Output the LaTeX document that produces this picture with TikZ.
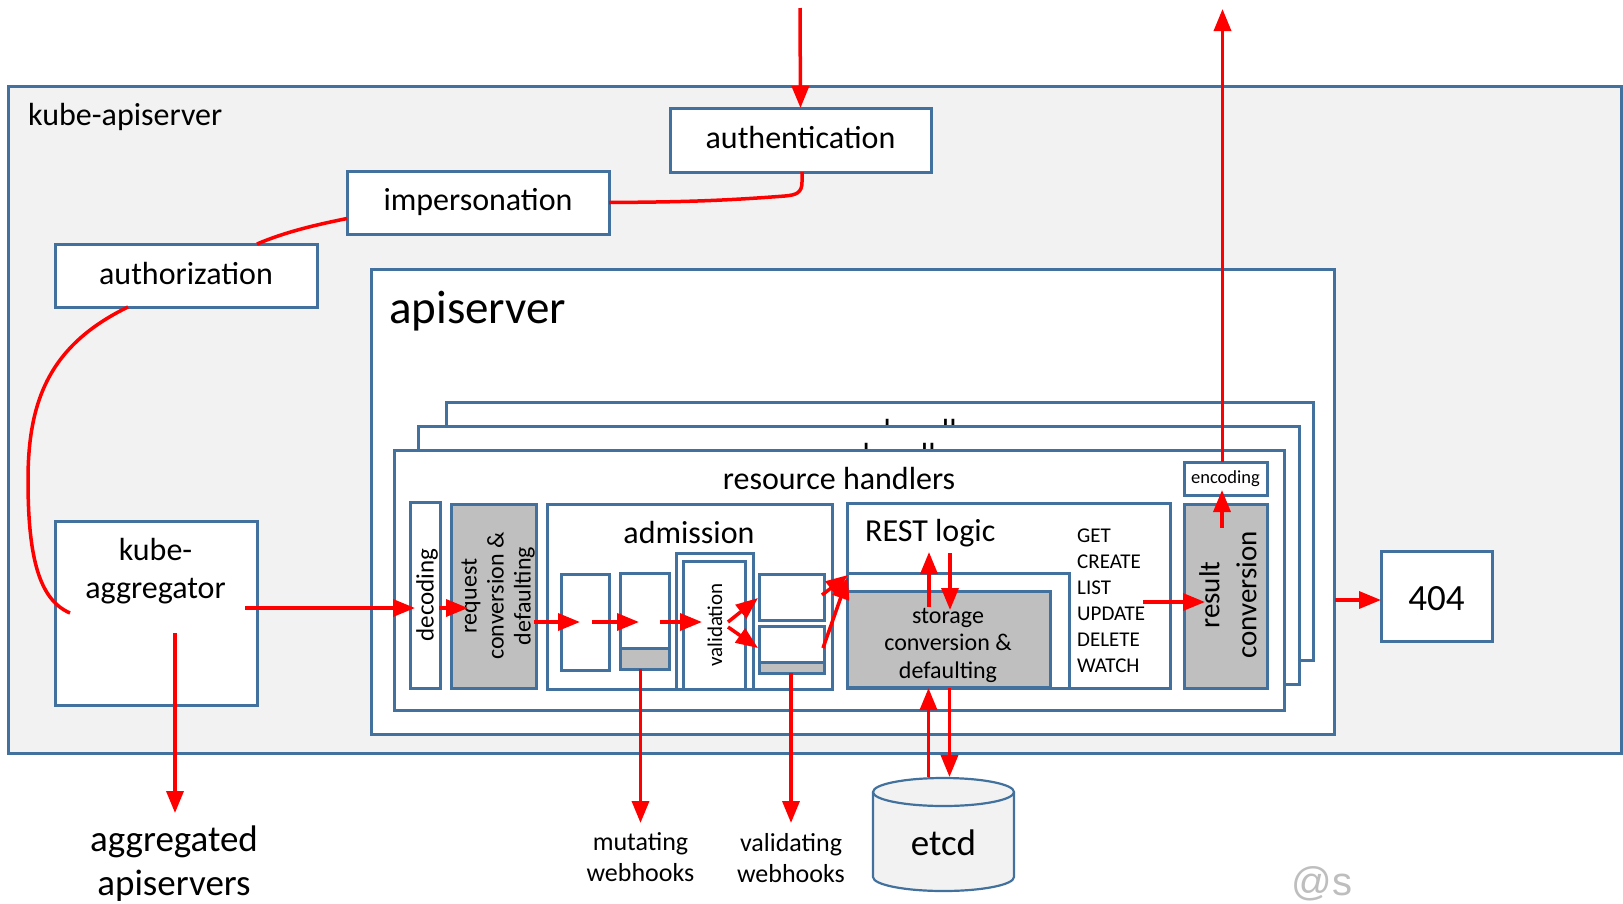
\documentclass[tikz,border=0pt]{standalone}
\usepackage{fontspec}
\setmainfont{Carlito}
\newfontfamily\marksans{Liberation Sans}
\usetikzlibrary{arrows.meta,calc}
\definecolor{edgeblue}{RGB}{65,113,156}
\definecolor{panelgray}{RGB}{242,242,242}
\definecolor{stagegray}{RGB}{191,191,191}
\definecolor{flowred}{RGB}{255,0,0}
\definecolor{markgray}{RGB}{190,190,190}
\newcommand\fsz[2]{\fontsize{#1pt}{#2pt}\selectfont}

\begin{document}
\begin{tikzpicture}[x=1pt,y=-1pt,
  box/.style={draw=edgeblue, line width=3pt, fill=white, inner sep=0pt, outer sep=0pt},
  graybox/.style={box, fill=stagegray},
  band/.style={draw=edgeblue, line width=3pt, fill=stagegray},
  txt/.style={inner sep=0pt, text=black},
  flow/.style={draw=flowred, line width=3.5pt, -{Triangle[length=22pt,width=17pt]}},
  wire/.style={draw=flowred, line width=3.5pt},
  cyl/.style={draw=edgeblue, line width=2.2pt, fill=panelgray}]

\useasboundingbox (0,0) rectangle (1623,903);
\fill[white] (0,0) rectangle (1623,903);

% kube-apiserver frame
\node[box, fill=panelgray, minimum width=1613pt, minimum height=667pt] (kas) at (814.5,419.5) {};
\node[txt, anchor=west, font=\fsz{32}{38}] (kaslabel) at (28,117) {kube-apiserver};

% request pipeline in front of the apiserver
\node[box, minimum width=261pt, minimum height=64pt] (authn) at (800.5,140) {};
\node[txt, font=\fsz{32}{38}] (authnlabel) at (800.5,138) {authentication};
\node[box, minimum width=262pt, minimum height=63pt, font=\fsz{32}{38}] (imp) at (478,202.5) {impersonation};
\node[box, minimum width=262pt, minimum height=63pt] (authz) at (186,275.5) {};
\node[txt, font=\fsz{32}{38}] (authzlabel) at (186,273.5) {authorization};
\node[box, minimum width=202pt, minimum height=184pt] (kag) at (156,613) {};
\node[txt, align=center, font=\fsz{32}{38}] (kaglabel) at (155.5,571) {kube-\\aggregator};

% apiserver
\node[box, minimum width=963pt, minimum height=465pt] (api) at (852.5,501.5) {};
\node[txt, anchor=west, font=\fsz{47}{56}] (apilabel) at (389,311) {apiserver};

% stacked resource handlers
\node[box, minimum width=867pt, minimum height=258pt] (rh3) at (879.5,531) {};
\node[txt, font=\fsz{32}{38}] (rh3label) at (879.5,430) {resource handlers};
\node[box, minimum width=881pt, minimum height=258pt] (rh2) at (858.5,555) {};
\node[txt, font=\fsz{32}{38}] (rh2label) at (858.5,454) {resource handlers};
\node[box, minimum width=890pt, minimum height=260pt] (rh1) at (839,580) {};
\node[txt, font=\fsz{32}{38}] (rh1label) at (839,478) {resource handlers};

% decoding and request conversion
\node[box, minimum width=30pt, minimum height=186pt] (dec) at (425,595) {};
\node[txt, rotate=90, font=\fsz{25}{30}] (declabel) at (427,595) {decoding};
\node[graybox, minimum width=85pt, minimum height=184pt] (req) at (493.5,596) {};
\node[txt, rotate=90, align=center, font=\fsz{24}{27}] (reqlabel) at (498,596) {request\\conversion \&\\defaulting};

% admission
\node[box, minimum width=285pt, minimum height=185pt] (adm) at (689.5,596.5) {};
\node[txt, font=\fsz{32}{38}] (admlabel) at (689,532) {admission};
\node[box, minimum width=48pt, minimum height=96pt] (mut1) at (585,622) {};
\node[box, minimum width=49pt, minimum height=96pt] (mut2) at (644.5,621) {};
\draw[band] ($(mut2.south west)+(0,-21)$) rectangle (mut2.south east);
\node[box, minimum width=77pt, minimum height=136pt] (valout) at (714.5,621) {};
\node[box, minimum width=62pt, minimum height=128pt] (valin) at (714,625) {};
\node[txt, rotate=90, font=\fsz{21}{25}] (vallabel) at (715,625) {validation};
\node[box, minimum width=65pt, minimum height=46pt] (vw1) at (791.5,597) {};
\node[box, minimum width=65pt, minimum height=47pt] (vw2) at (791.5,649.5) {};
\draw[band] ($(vw2.south west)+(0,-11)$) rectangle (vw2.south east);

% REST logic and storage
\node[box, minimum width=323pt, minimum height=185pt] (rest) at (1008.5,595.5) {};
\node[txt, anchor=west, font=\fsz{32}{38}] (restlabel) at (865,533) {REST logic};
\node[box, minimum width=222pt, minimum height=115pt] (restin) at (958,630.5) {};
\node[graybox, minimum width=203pt, minimum height=96pt] (sto) at (948.5,639) {};
\node[txt, align=center, font=\fsz{24}{27.5}] (stolabel) at (948,645) {storage\\conversion \&\\defaulting};
\node[txt, anchor=west, align=left, font=\fsz{21}{26}] (verbs) at (1077,601) {GET\\CREATE\\LIST\\UPDATE\\DELETE\\WATCH};

% result conversion and encoding
\node[graybox, minimum width=83pt, minimum height=184pt] (res) at (1225.5,596) {};
\node[txt, rotate=90, align=center, font=\fsz{29}{37}] (reslabel) at (1228,595) {result\\conversion};
\node[box, minimum width=83pt, minimum height=33pt, font=\fsz{18.5}{22}] (enc) at (1225.5,478.5) {encoding};

% 404
\node[box, minimum width=111pt, minimum height=90pt] (nf) at (1436.5,596) {};
\node[txt, font=\fsz{37}{44}] (nflabel) at (1436.5,598.5) {404};

% etcd
\coordinate (etcdtop) at (943.5,778);
\filldraw[cyl] (873,792) -- (873,877) arc[start angle=180,end angle=360,x radius=70.5pt,y radius=14pt] -- (1014,792);
\filldraw[cyl] (943.5,792) ellipse[x radius=70.5pt,y radius=14pt];
\node[txt, font=\fsz{37}{44}] (etcd) at (943.5,843) {etcd};

% outside labels
\node[txt, align=center, font=\fsz{37}{44}] (aggr) at (174,864) {aggregated\\apiservers};
\node[txt, align=center, font=\fsz{26}{31}] (mwh) at (640.5,857.5) {mutating\\webhooks};
\node[txt, align=center, font=\fsz{26}{31}] (vwh) at (791,858) {validating\\webhooks};
\node[txt, text=markgray, font=\marksans\fsz{40}{48}] (mark) at (1322,884) {@s};

\coordinate (reqin) at (800,8);
\coordinate (respout) at (1222.5,9);
\coordinate (aggrtip) at (175,813);
\coordinate (mwhtip) at (640.5,823);
\coordinate (vwhtip) at (791,823);

% request path
\draw[flow] (reqin) -- (authn.north);
\draw[wire] ($(authn.south)+(1.5,0)$) -- (802,182)
  .. controls (802,193) and (796,195) .. (785,196)
  .. controls (720,201) and (680,202) .. (imp.east);
\draw[wire] ($(imp.west)+(0,16)$) .. controls (315,225) and (285,232) .. ($(authz.north)+(71,0)$);
\draw[wire] ($(authz.south)+(-58,0)$) .. controls (50,345) and (28,400) .. (28,480)
  .. controls (28,560) and (40,600) .. ($(kag.west)+(15,0)$);
\draw[flow] ($(kag.center)+(89,-5)$) -- ($(dec.west)+(5,13)$);
\draw[flow] ($(kag.center)+(19,20)$) -- (aggrtip);
\draw[flow] ($(dec.east)+(-1,13)$) -- ($(req.west)+(17,12)$);
\draw[flow] ($(req.east)+(-2,26)$) -- ($(mut1.center)+(-5,0)$);
\draw[flow] ($(mut1.center)+(7,0)$) -- ($(mut2.center)+(-5.5,1)$);
\draw[flow] ($(mut2.center)+(15.5,1)$) -- ($(valin.center)+(-12,-3)$);
\draw[flow] ($(valin.center)+(14,-3)$) -- ($(vw1.west)+(-1,1)$);
\draw[flow] ($(valin.center)+(14,2)$) -- ($(vw2.west)+(-1,-1.5)$);
\draw[flow] ($(vw1.east)+(-2,-2)$) -- ($(restin.north west)+(1,2)$);
\draw[flow] ($(vw2.east)+(-1,-1.5)$) -- ($(restin.north west)+(1,4)$);
\draw[flow] ($(mut2.south)+(-4,0)$) -- (mwhtip);
\draw[flow] ($(vw2.south)+(-0.5,0)$) -- (vwhtip);

% storage round trips
\draw[flow] ($(sto.north)+(-19.5,16)$) -- ($(sto.north)+(-19.5,-39)$);
\draw[flow] ($(sto.north)+(1.5,-38)$) -- ($(sto.north)+(1.5,19)$);
\draw[flow] ($(etcdtop)+(-15,-1)$) -- ($(sto.south)+(-20,1)$);
\draw[flow] ($(sto.south)+(1,1)$) -- ($(etcdtop)+(6,-1)$);

% response path
\draw[flow] ($(rest.east)+(-27,6.5)$) -- ($(res.west)+(21,6)$);
\draw[flow] ($(res.north)+(-3.5,24)$) -- ($(enc.south)+(-3.5,-5)$);
\draw[flow] ($(enc.north)+(-3,0)$) -- (respout);
\draw[flow] ($(api.east)+(1,98.5)$) -- ($(nf.west)+(0,4)$);

\end{tikzpicture}
\end{document}
